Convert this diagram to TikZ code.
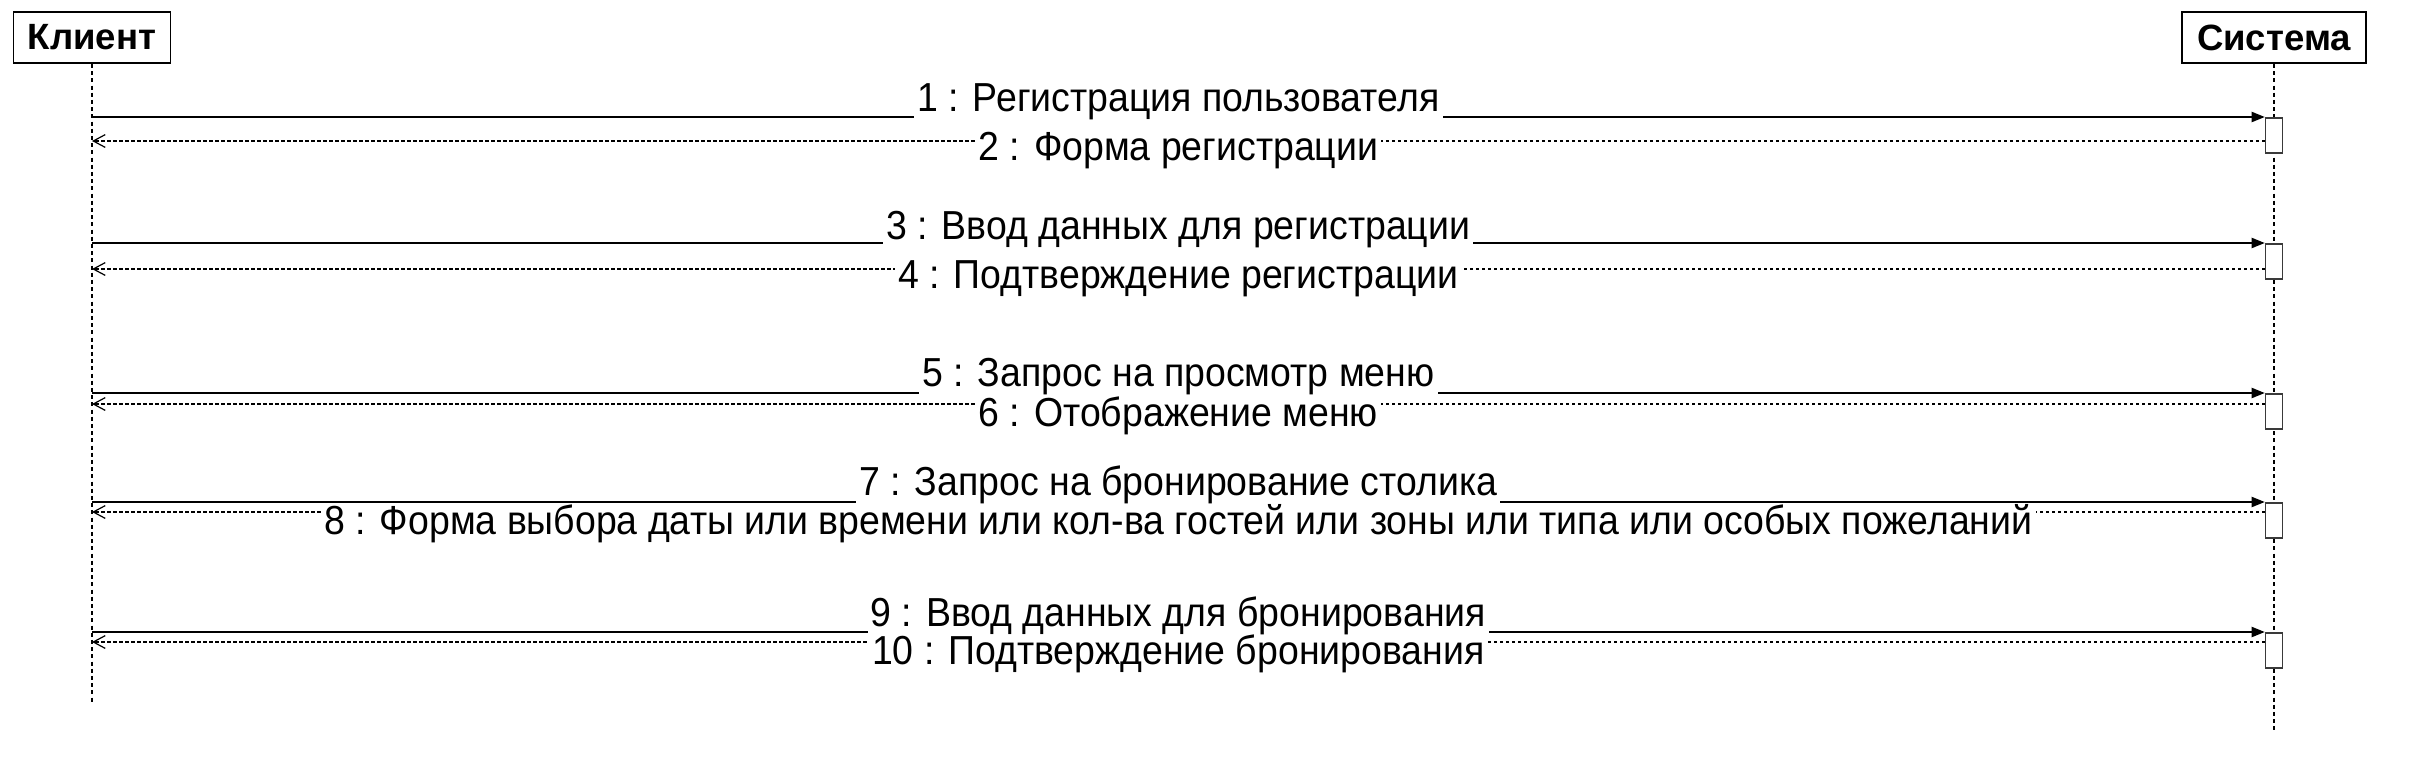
\documentclass[tikz,border=0pt]{standalone}
\usepackage{fontspec}
\setmainfont{Liberation Sans}
\newfontfamily\msgfont[FakeStretch=0.925]{Liberation Sans}
\usetikzlibrary{arrows.meta,positioning}
\definecolor{actgray}{HTML}{3A3A3A}

\begin{document}
\begin{tikzpicture}[
  x=0.25mm, y=-0.25mm,
  actor/.style={draw, line width=0.45mm, fill=white, inner sep=0pt,
                font=\fontsize{26}{30}\selectfont\bfseries, minimum height=12.75mm},
  life/.style={line width=0.35mm, dash pattern=on 1mm off 0.8mm},
  act/.style={draw=actgray, line width=0.4mm, fill=white, inner sep=0pt, anchor=north,
              minimum width=4.25mm, minimum height=8.75mm},
  msg/.style={fill=white, inner xsep=0.8mm, inner ysep=0pt, font=\msgfont\fontsize{28.8}{32}\selectfont},
  call/.style={line width=0.3mm, -{Triangle[length=3.3mm,width=2.6mm]}},
  ret/.style={line width=0.3mm, dash pattern=on 0.8mm off 0.7mm,
              -{Straight Barb[length=3mm,width=3.2mm]}},
]
\useasboundingbox (0,0) rectangle (2416,782);

% Участники и линии жизни
\node[actor, minimum width=39.25mm] (cl) at (92,37.5) {Клиент};
\node[actor, minimum width=46mm] (sys) at (2274,37.5) {Система};
\coordinate (cl-end) at (92,702);
\coordinate (sys-end) at (2274,732);
\draw[life] (cl) -- (cl-end);
\draw[life] (sys) -- (sys-end);

% Активации системы
\node[act] (a1) at (2274,117) {};
\node[act] (a2) at (2274,243) {};
\node[act] (a3) at (2274,393) {};
\node[act] (a4) at (2274,502) {};
\node[act] (a5) at (2274,632) {};
\coordinate (r1) at ([yshift=-6mm]a1.north west);
\coordinate (r2) at ([yshift=-6.5mm]a2.north west);
\coordinate (r3) at ([yshift=-2.75mm]a3.north west);
\coordinate (r4) at ([yshift=-2.5mm]a4.north west);
\coordinate (r5) at ([yshift=-2.5mm]a5.north west);

% Регистрация
\draw[call] (cl |- a1.north) -- node[msg, yshift=3.75mm] {1 : Регистрация пользователя} (a1.north west);
\draw[ret] (r1) -- node[msg, yshift=-2.5mm] {2 : Форма регистрации} (cl |- r1);
\draw[call] (cl |- a2.north) -- node[msg, yshift=3.4mm] {3 : Ввод данных для регистрации} (a2.north west);
\draw[ret] (r2) -- node[msg, yshift=-2.5mm] {4 : Подтверждение регистрации} (cl |- r2);

% Меню
\draw[call] (cl |- a3.north) -- node[msg, yshift=4mm] {5 : Запрос на просмотр меню} (a3.north west);
\draw[ret] (r3) -- node[msg, yshift=-3mm] {6 : Отображение меню} (cl |- r3);

% Бронирование
\draw[call] (cl |- a4.north) -- node[msg, yshift=4.25mm] {7 : Запрос на бронирование столика} (a4.north west);
\draw[ret] (r4) -- node[msg, yshift=-3mm] {8 : Форма выбора даты или времени или кол-ва гостей или зоны или типа или особых пожеланий} (cl |- r4);
\draw[call] (cl |- a5.north) -- node[msg, yshift=4mm] {9 : Ввод данных для бронирования} (a5.north west);
\draw[ret] (r5) -- node[msg, yshift=-3mm] {10 : Подтверждение бронирования} (cl |- r5);
\end{tikzpicture}
\end{document}
